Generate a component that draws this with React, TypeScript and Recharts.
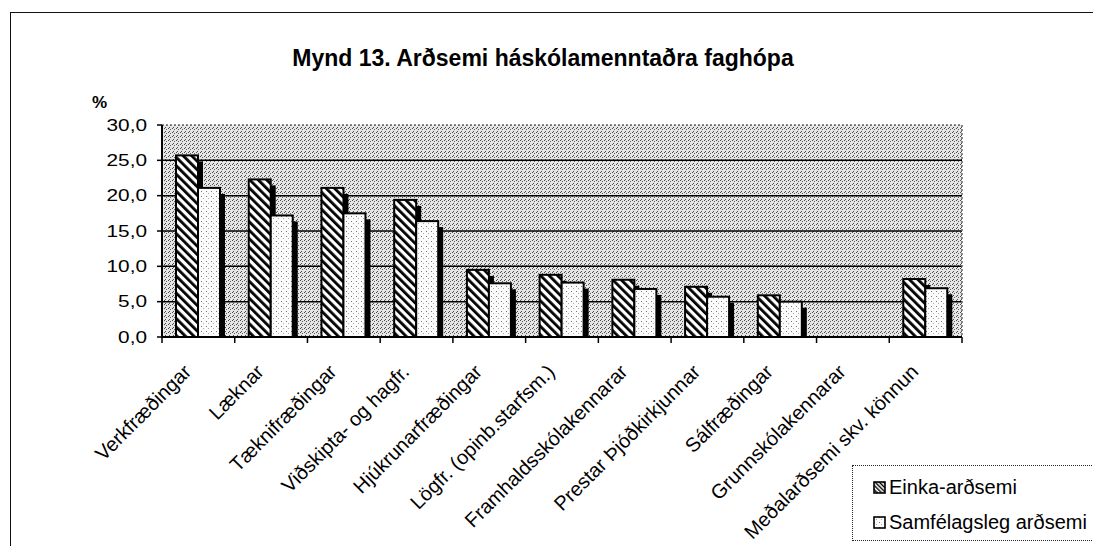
import React from 'react';
import { BarChart, Bar, XAxis, YAxis, CartesianGrid, ReferenceArea, Legend } from 'recharts';

const categories = [
  'Verkfræðingar',
  'Læknar',
  'Tæknifræðingar',
  'Viðskipta- og hagfr.',
  'Hjúkrunarfræðingar',
  'Lögfr. (opinb.starfsm.)',
  'Framhaldsskólakennarar',
  'Prestar Þjóðkirkjunnar',
  'Sálfræðingar',
  'Grunnskólakennarar',
  'Meðalarðsemi skv. könnun',
];
const einka: (number | null)[] = [25.7, 22.3, 21.1, 19.4, 9.5, 8.8, 8.1, 7.1, 5.9, null, 8.2];
const samf: (number | null)[] = [21.1, 17.2, 17.5, 16.4, 7.6, 7.7, 6.8, 5.7, 5.0, null, 6.9];
const yTicks = [0, 5, 10, 15, 20, 25, 30];
const gridValues = [5, 10, 15, 20, 25];
const seriesNames = ['Einka-arðsemi', 'Samfélagsleg arðsemi'];
const title = 'Mynd 13. Arðsemi háskólamenntaðra faghópa';

const data = categories.map((name, i) => ({ name, einka: einka[i], samf: samf[i] }));

const W = 1093;
const H = 546;
const MARGIN = { top: 125, right: 131, bottom: 59, left: 102 };
const YAXIS_W = 60;
const XAXIS_H = 150;
const PLOT_W = W - MARGIN.left - YAXIS_W - MARGIN.right;
const BAND = PLOT_W / categories.length;
const FONT = '"Liberation Sans", Arial, Helvetica, sans-serif';

const BarShape = (props: any) => {
  const { x, y, width, height, fill, value } = props;
  if (value == null || !height || height <= 0) return null;
  return (
    <g>
      <rect x={x + width} y={y + 6} width={5} height={height - 6} fill="#000" />
      <rect x={x} y={y} width={width} height={height} fill={fill} stroke="#000" strokeWidth={2} />
    </g>
  );
};

const YTick = (props: any) => {
  const { x, y, payload } = props;
  const label = Number(payload.value).toFixed(1).replace('.', ',');
  return (
    <text
      transform={`translate(${x},${y}) scale(1.3,1)`}
      textAnchor="end"
      dy="0.36em"
      fontSize={16}
      fontFamily={FONT}
      fill="#000"
    >
      {label}
    </text>
  );
};

const XTick = (props: any) => {
  const { x, y, payload, index } = props;
  const left = x - BAND / 2;
  const right = x + BAND / 2;
  const lx = x - 6;
  const ly = y + 36;
  return (
    <g>
      <line x1={left} y1={y} x2={left} y2={y + 6} stroke="#000" strokeWidth={1.5} />
      {index === categories.length - 1 && (
        <line x1={right} y1={y} x2={right} y2={y + 6} stroke="#000" strokeWidth={1.5} />
      )}
      <text
        x={lx}
        y={ly}
        transform={`rotate(-45, ${lx}, ${ly})`}
        textAnchor="end"
        fontSize={20}
        fontFamily={FONT}
        fill="#000"
      >
        {payload.value}
      </text>
    </g>
  );
};

const LegendContent = () => (
  <div
    style={{
      background: '#fff',
      border: '1px dotted #222',
      borderRight: 'none',
      padding: '4px 0 0 20px',
      boxSizing: 'border-box',
      width: 250,
      height: 76,
      fontFamily: FONT,
      fontSize: 20,
      color: '#000',
      lineHeight: '35px',
    }}
  >
    {seriesNames.map((n, i) => (
      <div key={n} style={{ display: 'flex', alignItems: 'center', whiteSpace: 'nowrap' }}>
        <svg width={13} height={13} style={{ marginRight: 3 }}>
          <rect
            x={1}
            y={1}
            width={11}
            height={11}
            fill={i === 0 ? 'url(#hatchSmall)' : 'url(#dotsLight)'}
            stroke="#000"
            strokeWidth={1.6}
          />
        </svg>
        <span>{n}</span>
      </div>
    ))}
  </div>
);

export default function App() {
  return (
    <div style={{ position: 'absolute', left: 0, top: 0, width: W, height: H, background: '#fff' }}>
      <svg width={0} height={0} style={{ position: 'absolute' }}>
        <defs>
          <pattern id="hatch" patternUnits="userSpaceOnUse" width={6} height={6} patternTransform="rotate(-45)">
            <rect width={6} height={6} fill="#fff" />
            <rect width={2.8} height={6} fill="#000" />
          </pattern>
          <pattern id="hatchSmall" patternUnits="userSpaceOnUse" width={3} height={3} patternTransform="rotate(-45)">
            <rect width={3} height={3} fill="#fff" />
            <rect width={1.4} height={3} fill="#000" />
          </pattern>
          <pattern id="dotsLight" patternUnits="userSpaceOnUse" width={5} height={5}>
            <rect width={5} height={5} fill="#fbfbfb" />
            <rect x={1} y={1} width={1} height={1} fill="#777" />
            <rect x={3} y={3} width={1} height={1} fill="#aaa" />
          </pattern>
          <pattern id="bgDots" patternUnits="userSpaceOnUse" width={4} height={4}>
            <rect width={4} height={4} fill="#e6e6e6" />
            <rect x={0} y={0} width={1} height={1} fill="#4a4a4a" />
            <rect x={2} y={1} width={1} height={1} fill="#5a5a5a" />
            <rect x={1} y={3} width={1} height={1} fill="#4a4a4a" />
          </pattern>
        </defs>
      </svg>
      <div
        style={{
          position: 'absolute',
          left: 10,
          top: 12,
          width: W - 10,
          height: H - 12,
          borderTop: '1.5px solid #111',
          borderLeft: '1.5px solid #111',
          boxSizing: 'border-box',
        }}
      />
      <div style={{ position: 'absolute', left: 0, top: 0 }}>
        <BarChart
          width={W}
          height={H}
          data={data}
          margin={MARGIN}
          barSize={22}
          barGap={0}
        >
          <text
            x={543}
            y={66}
            textAnchor="middle"
            fontSize={23}
            fontWeight="bold"
            fontFamily={FONT}
            fill="#000"
          >
            {title}
          </text>
          <text x={92} y={108} fontSize={17} fontWeight="bold" fontFamily={FONT} fill="#000">
            %
          </text>
          <CartesianGrid
            horizontal
            vertical={false}
            horizontalValues={gridValues}
            stroke="#000"
            strokeWidth={1.5}
            strokeOpacity={1}
            fill="url(#bgDots)"
            fillOpacity={1}
          />
          <ReferenceArea y1={0} y2={30} fill="none" stroke="#666" strokeDasharray="2 2" strokeWidth={1.5} />
          <XAxis
            dataKey="name"
            interval={0}
            height={XAXIS_H}
            tickSize={0}
            tickMargin={0}
            tickLine={false}
            axisLine={{ stroke: '#000', strokeWidth: 2 }}
            tick={<XTick />}
          />
          <YAxis
            width={YAXIS_W}
            domain={[0, 30]}
            ticks={yTicks}
            interval={0}
            tickSize={5}
            tickMargin={10}
            axisLine={{ stroke: '#000', strokeWidth: 2 }}
            tickLine={{ stroke: '#000', strokeWidth: 1.5 }}
            tick={<YTick />}
          />
          <Legend
            layout="horizontal"
            verticalAlign="middle"
            align="center"
            content={<LegendContent />}
            wrapperStyle={{ left: 852, top: 465, width: 250, height: 76 }}
          />
          <Bar dataKey="einka" name={seriesNames[0]} fill="url(#hatch)" shape={<BarShape />} isAnimationActive={false} />
          <Bar dataKey="samf" name={seriesNames[1]} fill="url(#dotsLight)" shape={<BarShape />} isAnimationActive={false} />
        </BarChart>
      </div>
    </div>
  );
}
